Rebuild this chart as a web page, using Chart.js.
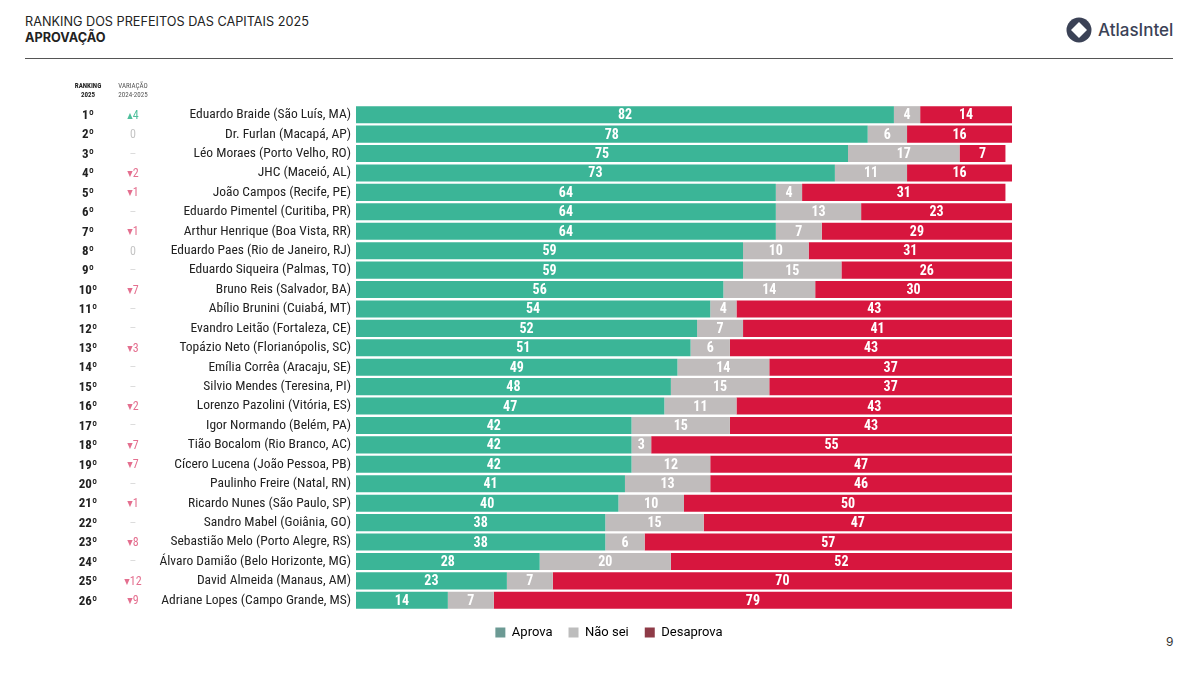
<!DOCTYPE html>
<html>
<head>
<meta charset="utf-8">
<script src="https://cdn.jsdelivr.net/npm/chart.js@4.4.1/dist/chart.umd.min.js"></script>
<style>
  body { margin: 0; background: #fff; }
  #page { position: relative; width: 1200px; height: 675px; overflow: hidden; font-family: Inter, "Noto Sans", sans-serif; }
  #title { position: absolute; left: 25px; top: 14px; font-size: 12.7px; color: #222; line-height: 16px; }
  #title b { font-weight: 700; }
  #rule { position: absolute; left: 25px; top: 58px; width: 1148px; height: 1px; background: #555; }
  #logo { position: absolute; left: 1066px; top: 17px; display: flex; align-items: center; }
  #logo span { font-size: 17px; color: #3b4256; margin-left: 6px; font-weight: 500; }
  #pagenum { position: absolute; left: 1166px; top: 634px; font-size: 12px; color: #333; }
  #wrap { position: absolute; left: 0; top: 0; width: 1200px; height: 675px; }
</style>
</head>
<body>
<div id="page">
  <div id="title">RANKING DOS PREFEITOS DAS CAPITAIS 2025<br><b>APROVAÇÃO</b></div>
  <div id="logo">
    <svg width="26" height="26" viewBox="0 0 26 26">
      <circle cx="13" cy="13" r="12.5" fill="#3b4256"/>
      <path d="M13 5 L21 13 L13 21 L5 13 Z" fill="#fff"/>
    </svg>
    <span>AtlasIntel</span>
  </div>
  <div id="rule"></div>
  <div id="pagenum">9</div>
  <div id="wrap"><canvas id="chart"></canvas></div>
</div>
<script>
  // dados
  var prefeitos = [
    "Eduardo Braide (São Luís, MA)", "Dr. Furlan (Macapá, AP)", "Léo Moraes (Porto Velho, RO)",
    "JHC (Maceió, AL)", "João Campos (Recife, PE)", "Eduardo Pimentel (Curitiba, PR)",
    "Arthur Henrique (Boa Vista, RR)", "Eduardo Paes (Rio de Janeiro, RJ)", "Eduardo Siqueira (Palmas, TO)",
    "Bruno Reis (Salvador, BA)", "Abílio Brunini (Cuiabá, MT)", "Evandro Leitão (Fortaleza, CE)",
    "Topázio Neto (Florianópolis, SC)", "Emília Corrêa (Aracaju, SE)", "Silvio Mendes (Teresina, PI)",
    "Lorenzo Pazolini (Vitória, ES)", "Igor Normando (Belém, PA)", "Tião Bocalom (Rio Branco, AC)",
    "Cícero Lucena (João Pessoa, PB)", "Paulinho Freire (Natal, RN)", "Ricardo Nunes (São Paulo, SP)",
    "Sandro Mabel (Goiânia, GO)", "Sebastião Melo (Porto Alegre, RS)", "Álvaro Damião (Belo Horizonte, MG)",
    "David Almeida (Manaus, AM)", "Adriane Lopes (Campo Grande, MS)"
  ];
  var ranking = ["1º","2º","3º","4º","5º","6º","7º","8º","9º","10º","11º","12º","13º",
    "14º","15º","16º","17º","18º","19º","20º","21º","22º","23º","24º","25º","26º"];
  var variacao = [4, 0, null, -2, -1, null, -1, 0, null, -7, null, null, -3,
    null, null, -2, null, -7, -7, null, -1, null, -8, null, -12, -9];

  var aprova    = [82, 78, 75, 73, 64, 64, 64, 59, 59, 56, 54, 52, 51, 49, 48, 47, 42, 42, 42, 41, 40, 38, 38, 28, 23, 14];
  var naoSei    = [4, 6, 17, 11, 4, 13, 7, 10, 15, 14, 4, 7, 6, 14, 15, 11, 15, 3, 12, 13, 10, 15, 6, 20, 7, 7];
  var desaprova = [14, 16, 7, 16, 31, 23, 29, 31, 26, 30, 43, 41, 43, 37, 37, 43, 43, 55, 47, 46, 50, 47, 57, 52, 70, 79];

  var VERDE = "#3bb597", CINZA = "#c0bcbc", VERMELHO = "#d7163e";
  var narrow = "'Roboto Condensed', 'Liberation Sans Narrow', 'DejaVu Sans Condensed', Roboto";

  var rotulosBarras = {
    id: "rotulosBarras",
    afterDatasetsDraw: function (chart) {
      var ctx = chart.ctx;
      ctx.save();
      ctx.font = "bold 14px " + narrow;
      ctx.fillStyle = "#fff";
      ctx.textAlign = "center";
      ctx.textBaseline = "middle";
      chart.data.datasets.forEach(function (ds, i) {
        var meta = chart.getDatasetMeta(i);
        meta.data.forEach(function (bar, j) {
          var v = ds.data[j];
          var right = Math.min(bar.x, chart.chartArea.right);
          ctx.fillText(String(v), (bar.base + right) / 2, bar.y + 1);
        });
      });
      ctx.restore();
    }
  };

  // centraliza a legenda sob a área entre os nomes e o fim das barras
  var posLegenda = {
    id: "posLegenda",
    afterLayout: function (chart) {
      chart.legend.left = 206;
      chart.legend.width = chart.legend.right - 206;
    }
  };

  var colunasEsquerda = {
    id: "colunasEsquerda",
    afterDraw: function (chart) {
      var ctx = chart.ctx, y = chart.scales.y;
      ctx.save();
      ctx.textAlign = "center";
      ctx.textBaseline = "middle";
      ctx.font = "bold 7px " + narrow;
      ctx.fillStyle = "#222";
      ctx.fillText("RANKING", 88, 86);
      ctx.fillText("2025", 88, 95);
      ctx.font = "7px " + narrow;
      ctx.fillStyle = "#555";
      ctx.fillText("VARIAÇÃO", 133, 86);
      ctx.fillText("2024-2025", 133, 95);
      ranking.forEach(function (r, i) {
        var py = y.getPixelForValue(i);
        ctx.font = "bold 13px " + narrow;
        ctx.fillStyle = "#222";
        ctx.fillText(r, 88, py + 1);
        var v = variacao[i];
        ctx.font = "12px " + narrow;
        if (v === null) {
          ctx.fillStyle = "#dcdcdc";
          ctx.fillText("–", 133, py + 1);
        } else if (v === 0) {
          ctx.fillStyle = "#c4c4c4";
          ctx.fillText("0", 133, py + 1);
        } else if (v > 0) {
          ctx.fillStyle = "#4fbf9c";
          ctx.fillText("▴" + v, 133, py + 1);
        } else {
          ctx.fillStyle = "#e46f8f";
          ctx.fillText("▾" + (-v), 133, py + 1);
        }
      });
      ctx.restore();
    }
  };

  new Chart(document.getElementById("chart"), {
    type: "bar",
    data: {
      labels: prefeitos,
      datasets: [
        { label: "Aprova", data: aprova, backgroundColor: VERDE },
        { label: "Não sei", data: naoSei, backgroundColor: CINZA },
        { label: "Desaprova", data: desaprova, backgroundColor: VERMELHO }
      ]
    },
    options: {
      indexAxis: "y",
      responsive: true,
      maintainAspectRatio: false,
      animation: false,
      layout: { padding: { top: 105, right: 188, left: 0, bottom: 26 } },
      datasets: { bar: { barPercentage: 0.88, categoryPercentage: 1 } },
      plugins: {
        legend: {
          position: "bottom",
          labels: {
            boxWidth: 10, boxHeight: 10, padding: 16,
            color: "#333",
            font: { family: "Roboto", size: 13 },
            generateLabels: function (chart) {
              var cores = ["#6c9a94", "#bdbdbd", "#8e3b47"];
              return chart.data.datasets.map(function (ds, i) {
                return { text: ds.label, fillStyle: cores[i], strokeStyle: cores[i], lineWidth: 0, datasetIndex: i };
              });
            }
          }
        },
        tooltip: { enabled: false }
      },
      scales: {
        x: { stacked: true, min: 0, max: 100, display: false },
        y: {
          stacked: true,
          grid: { display: false, drawTicks: false },
          border: { display: false },
          ticks: { autoSkip: false, color: "#222", padding: 5, font: { family: narrow, size: 13.5 } },
          afterFit: function (s) { s.width = 356; }
        }
      }
    },
    plugins: [rotulosBarras, colunasEsquerda, posLegenda]
  });
</script>
</body>
</html>
